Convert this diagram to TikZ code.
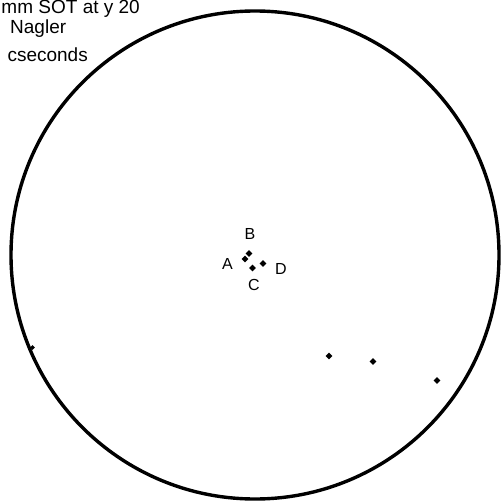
\documentclass[tikz,border=0pt]{standalone}
\usepackage{fontspec}
\setmainfont{Liberation Sans}
\usetikzlibrary{shapes.geometric}
\begin{document}
\begin{tikzpicture}[x=1pt,y=-1pt,
  star/.style={diamond,fill=black,inner sep=0pt,minimum size=7pt},
  smallstar/.style={diamond,fill=black,inner sep=0pt,minimum size=5pt},
  hdr/.style={font=\fontsize{19}{22}\selectfont,inner sep=0pt},
  lbl/.style={font=\fontsize{16}{18}\selectfont,inner sep=0pt}]
\useasboundingbox (0,0) rectangle (501,502);
\fill[white] (0,0) rectangle (501,502);
% field of view
\node[circle,draw=black,line width=3.4pt,minimum size=488pt,inner sep=0pt] (fov) at (255,255) {};
% header text
\node[hdr,anchor=base east] (h1) at (140,14) {mm SOT at y 20};
\node[hdr,anchor=base west] (h2) at (10,34) {Nagler};
\node[hdr,anchor=base east] (h3) at (88,62) {cseconds};
% central group
\node[star] (sb) at (249,253.5) {};
\node[star] (sa) at (245,259) {};
\node[star] (sc) at (252.5,268) {};
\node[star] (sd) at (263,263.5) {};
\node[lbl] (la) at (227.5,263.5) {A};
\node[lbl] (lb) at (250,234) {B};
\node[lbl] (lc) at (254,285) {C};
\node[lbl] (ld) at (281,268.5) {D};
% other stars
\node[star] (s1) at (329,356) {};
\node[star] (s2) at (373,361.5) {};
\node[star] (s3) at (437,380.5) {};
\node[smallstar] (s4) at (32.5,347.5) {};
\end{tikzpicture}
\end{document}
